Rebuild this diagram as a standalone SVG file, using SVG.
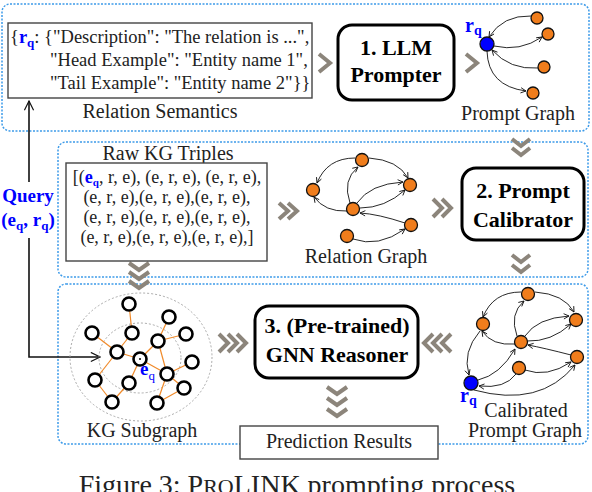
<svg xmlns="http://www.w3.org/2000/svg" width="592" height="492" viewBox="0 0 592 492">
<defs>
<marker id="ah" viewBox="0 0 8 8" refX="7" refY="4" markerWidth="7" markerHeight="7" markerUnits="userSpaceOnUse" orient="auto">
<path d="M1,1 L7,4 L1,7" fill="none" stroke="#111" stroke-width="1"/>
</marker>
<marker id="ahq" viewBox="0 0 12 12" refX="11" refY="6" markerWidth="11" markerHeight="11" markerUnits="userSpaceOnUse" orient="auto">
<path d="M1,1 L11,6 L1,11" fill="none" stroke="#111" stroke-width="1.3"/>
</marker>
<style>
.t{font-family:"Liberation Serif","Times New Roman",serif;fill:#222}
.lbl{font-size:20px}
.b{font-family:"Liberation Serif","Times New Roman",serif;font-weight:bold;font-size:22px;fill:#000}
.bl{fill:#0000ff;font-weight:bold}
.panel{fill:none;stroke:#3d9be9;stroke-width:1.5;stroke-dasharray:2 1.5}
.box{fill:#fff;stroke:#444;stroke-width:1.4}
.rbox{fill:#fff;stroke:#000;stroke-width:3}
.chev{fill:none;stroke:#8c857b;stroke-width:4}
.on{fill:#f07d1c;stroke:#111;stroke-width:1.3}
.bn{fill:#0000ff;stroke:#111;stroke-width:1.3}
.e{fill:none;stroke:#111;stroke-width:0.9;marker-end:url(#ah)}
.kn{fill:#fff;stroke:#000;stroke-width:2.6}
.ke{stroke:#f08a2a;stroke-width:1.2}
.ring{fill:none;stroke:#aaa;stroke-width:1;stroke-dasharray:2 2}
</style>
</defs>

<g id="panels">
<rect class="panel" x="2" y="4" width="587" height="127" rx="8"/>
<rect class="panel" x="58" y="142" width="530" height="135" rx="8"/>
<rect class="panel" x="58" y="284" width="530" height="160" rx="8"/>
</g>

<g id="connectors">
<path d="M29,182 V101" fill="none" stroke="#111" stroke-width="1.6" marker-end="url(#ahq)"/>
<path d="M29,238 V357 H100" fill="none" stroke="#111" stroke-width="1.6" marker-end="url(#ahq)"/>
<polyline class="chev" points="319,54 330,63 319,72"/>
<polyline class="chev" points="466,54 477,63 466,72"/>
<polyline class="chev" points="512,139 521,146 530,139"/>
<polyline class="chev" points="512,148 521,155 530,148"/>
<polyline class="chev" points="279,203 288,211 279,219"/>
<polyline class="chev" points="288,203 297,211 288,219"/>
<polyline class="chev" points="433,199 442,208 433,217"/>
<polyline class="chev" points="442,199 451,208 442,217"/>
<polyline class="chev" points="512,255 521,262 530,255"/>
<polyline class="chev" points="512,265 521,272 530,265"/>
<polyline class="chev" points="129,263 139,270 149,263"/>
<polyline class="chev" points="129,272 139,279 149,272"/>
<polyline class="chev" points="129,281 139,288 149,281"/>
<polyline class="chev" points="219,334 228,343 219,352"/>
<polyline class="chev" points="228,334 237,343 228,352"/>
<polyline class="chev" points="237,334 246,343 237,352"/>
<polyline class="chev" points="433,334 424,343 433,352"/>
<polyline class="chev" points="442,334 433,343 442,352"/>
<polyline class="chev" points="451,334 442,343 451,352"/>
<polyline class="chev" points="327,387 337,394 347,387"/>
<polyline class="chev" points="327,398 337,405 347,398"/>
<polyline class="chev" points="327,409 337,416 347,409"/>
</g>

<g id="relation-semantics">
<rect class="box" x="8" y="23" width="304" height="75"/>
<text class="t" x="10" y="43" font-size="18.5">{<tspan class="bl">r</tspan><tspan class="bl" font-size="13" dy="4">q</tspan><tspan dy="-4">: {"Description": "The relation is ...",</tspan></text>
<text class="t" x="50" y="66" font-size="18.5">"Head Example": "Entity name 1",</text>
<text class="t" x="50" y="89" font-size="18.5">"Tail Example": "Entity name 2"}}</text>
<text class="t lbl" x="160" y="118" text-anchor="middle">Relation Semantics</text>
</g>

<g id="llm-prompter">
<rect class="rbox" x="338" y="25" width="116" height="75" rx="14"/>
<text class="b" x="396" y="55" text-anchor="middle">1. LLM</text>
<text class="b" x="396" y="82" text-anchor="middle">Prompter</text>
</g>

<g id="prompt-graph">
<path class="e" d="M531,16 Q503,15 489,37"/>
<path class="e" d="M494,46 Q520,52 542,37"/>
<path class="e" d="M538,68 Q510,70 492,50"/>
<path class="e" d="M487,51 Q488,86 526,91"/>
<circle class="bn" cx="487" cy="44" r="7"/>
<circle class="on" cx="537" cy="18" r="6"/>
<circle class="on" cx="548" cy="34" r="6"/>
<circle class="on" cx="544" cy="67" r="6"/>
<circle class="on" cx="533" cy="93" r="6"/>
<text class="t bl" x="465" y="32" font-size="20">r<tspan font-size="14" dy="3">q</tspan></text>
<text class="t lbl" x="518" y="120" text-anchor="middle">Prompt Graph</text>
</g>

<g id="query">
<text class="t bl" x="28" y="202" font-size="19" text-anchor="middle">Query</text>
<text class="t bl" x="28" y="226" font-size="19" text-anchor="middle">(e<tspan font-size="13" dy="4">q</tspan><tspan dy="-4">, r</tspan><tspan font-size="13" dy="4">q</tspan><tspan dy="-4">)</tspan></text>
</g>

<g id="raw-kg-triples">
<text class="t lbl" x="168" y="160" text-anchor="middle">Raw KG Triples</text>
<rect class="box" x="66" y="163" width="201" height="98"/>
<text class="t" x="167" y="183" font-size="18" text-anchor="middle">[(<tspan class="bl">e</tspan><tspan class="bl" font-size="11" dy="3">q</tspan><tspan dy="-3">, r, e), (e, r, e), (e, r, e),</tspan></text>
<text class="t" x="167" y="203" font-size="18" text-anchor="middle">(e, r, e),(e, r, e),(e, r, e),</text>
<text class="t" x="167" y="223" font-size="18" text-anchor="middle">(e, r, e),(e, r, e),(e, r, e),</text>
<text class="t" x="167" y="243" font-size="18" text-anchor="middle">(e, r, e),(e, r, e),(e, r, e),]</text>
</g>

<g id="relation-graph">
<path class="e" d="M355,158 Q327,158 317,183"/>
<path class="e" d="M369,158 Q398,160 408,178"/>
<path class="e" d="M350,203 Q342,180 358,167"/>
<path class="e" d="M357,203 Q370,184 403,182"/>
<path class="e" d="M360,208 Q385,208 405,190"/>
<path class="e" d="M347,211 Q325,212 314,197"/>
<path class="e" d="M405,223 Q378,214 360,213"/>
<path class="e" d="M353,239 Q378,248 405,229"/>
<circle class="on" cx="362" cy="160" r="6.5"/>
<circle class="on" cx="313" cy="190" r="6.5"/>
<circle class="on" cx="410" cy="185" r="6.5"/>
<circle class="on" cx="353" cy="209" r="6.5"/>
<circle class="on" cx="411" cy="225" r="6.5"/>
<circle class="on" cx="347" cy="236" r="6.5"/>
<text class="t lbl" x="366" y="263" text-anchor="middle">Relation Graph</text>
</g>

<g id="prompt-calibrator">
<rect class="rbox" x="462" y="168" width="122" height="72" rx="14"/>
<text class="b" x="523" y="198" text-anchor="middle">2. Prompt</text>
<text class="b" x="523" y="227" text-anchor="middle">Calibrator</text>
</g>

<g id="kg-subgraph">
<ellipse class="ring" cx="141" cy="357" rx="71" ry="64"/>
<ellipse class="ring" cx="140" cy="358" rx="41" ry="35"/>
<g class="ke">
<line x1="129" y1="304" x2="132" y2="333"/>
<line x1="132" y1="333" x2="117" y2="352"/>
<line x1="92" y1="333" x2="117" y2="352"/>
<line x1="117" y1="352" x2="140" y2="359"/>
<line x1="117" y1="352" x2="95" y2="380"/>
<line x1="140" y1="359" x2="129" y2="383"/>
<line x1="129" y1="383" x2="112" y2="402"/>
<line x1="95" y1="380" x2="112" y2="402"/>
<line x1="140" y1="359" x2="158" y2="341"/>
<line x1="158" y1="341" x2="169" y2="317"/>
<line x1="158" y1="341" x2="186" y2="334"/>
<line x1="158" y1="341" x2="167" y2="374"/>
<line x1="140" y1="359" x2="167" y2="374"/>
<line x1="167" y1="374" x2="192" y2="362"/>
<line x1="167" y1="374" x2="184" y2="388"/>
<line x1="167" y1="374" x2="157" y2="403"/>
<line x1="184" y1="388" x2="157" y2="403"/>
</g>
<circle class="kn" cx="129" cy="304" r="6.5"/>
<circle class="kn" cx="169" cy="317" r="6.5"/>
<circle class="kn" cx="92" cy="333" r="6.5"/>
<circle class="kn" cx="132" cy="333" r="6.5"/>
<circle class="kn" cx="158" cy="341" r="6.5"/>
<circle class="kn" cx="186" cy="334" r="6.5"/>
<circle class="kn" cx="117" cy="352" r="6.5"/>
<circle class="kn" cx="140" cy="359" r="6.5"/>
<circle cx="140" cy="359" r="1" fill="#000"/>
<circle class="kn" cx="192" cy="362" r="6.5"/>
<circle class="kn" cx="95" cy="380" r="6.5"/>
<circle class="kn" cx="129" cy="383" r="6.5"/>
<circle class="kn" cx="167" cy="374" r="6.5"/>
<circle class="kn" cx="184" cy="388" r="6.5"/>
<circle class="kn" cx="112" cy="402" r="6.5"/>
<circle class="kn" cx="157" cy="403" r="6.5"/>
<text class="t bl" x="140" y="375" font-size="19">e<tspan font-size="13" font-weight="normal" dy="5">q</tspan></text>
<text class="t lbl" x="142" y="437" text-anchor="middle">KG Subgraph</text>
</g>

<g id="gnn-reasoner">
<rect class="rbox" x="255" y="306" width="163" height="72" rx="14"/>
<text class="b" x="337" y="333" text-anchor="middle">3. (Pre-trained)</text>
<text class="b" x="337" y="362" text-anchor="middle">GNN Reasoner</text>
</g>

<g id="prediction-results">
<rect class="box" x="240" y="426" width="198" height="33"/>
<text class="t lbl" x="339" y="448" text-anchor="middle">Prediction Results</text>
</g>

<g id="calibrated-prompt-graph">
<path class="e" d="M521,292 Q493,292 483,317"/>
<path class="e" d="M535,292 Q564,294 574,312"/>
<path class="e" d="M517,336 Q509,314 524,301"/>
<path class="e" d="M525,336 Q537,318 569,316"/>
<path class="e" d="M527,341 Q551,342 571,324"/>
<path class="e" d="M515,344 Q492,346 482,331"/>
<path class="e" d="M571,355 Q544,348 528,345"/>
<path class="e" d="M525,370 Q547,378 571,362"/>
<path class="e" d="M480,331 Q462,352 469,375"/>
<path class="e" d="M478,380 Q500,375 515,349"/>
<path class="e" d="M516,374 Q505,389 479,386"/>
<path class="e" d="M474,390 Q540,408 575,365"/>
<circle class="on" cx="528" cy="294" r="6.5"/>
<circle class="on" cx="483" cy="324" r="6.5"/>
<circle class="on" cx="576" cy="320" r="6.5"/>
<circle class="on" cx="521" cy="342" r="6.5"/>
<circle class="on" cx="577" cy="357" r="6.5"/>
<circle class="on" cx="519" cy="368" r="6.5"/>
<circle class="bn" cx="471" cy="383" r="7"/>
<text class="t bl" x="460" y="402" font-size="20">r<tspan font-size="14" dy="3">q</tspan></text>
<text class="t lbl" x="526" y="417" text-anchor="middle">Calibrated</text>
<text class="t lbl" x="525" y="437" text-anchor="middle">Prompt Graph</text>
</g>

<text class="t" x="297" y="494" font-size="28" text-anchor="middle">Figure 3: P<tspan font-size="22">RO</tspan>LINK prompting process</text>
</svg>
